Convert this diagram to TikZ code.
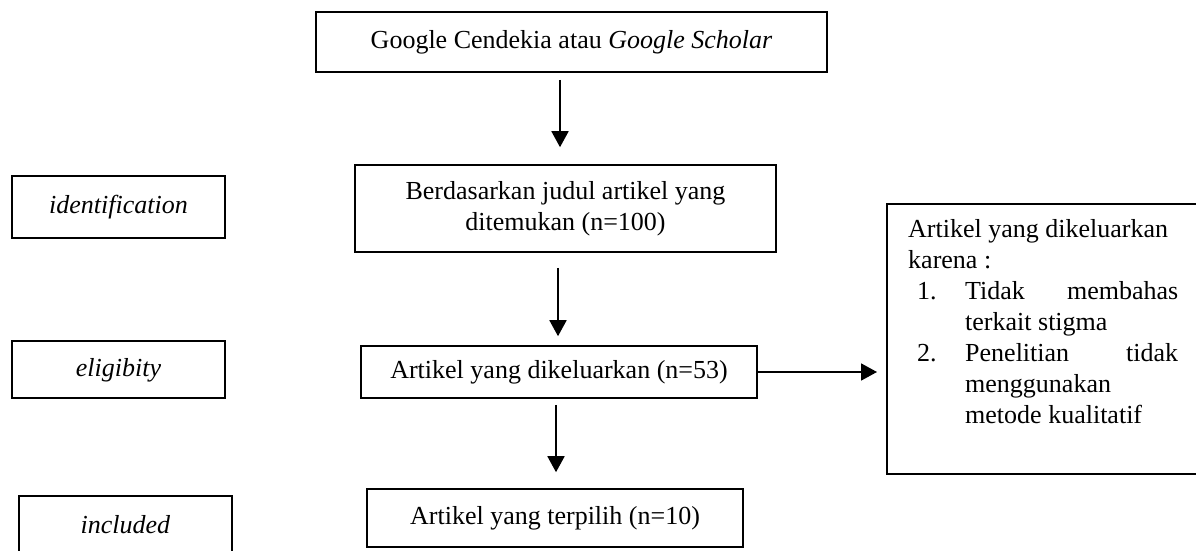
\documentclass[tikz,border=0pt]{standalone}
\usepackage{fontspec}
\setmainfont{Liberation Serif}
\usetikzlibrary{arrows.meta}
\begin{document}
\begin{tikzpicture}[x=1pt,y=-1pt,
  box/.style={draw, line width=1.6pt, inner sep=0pt, align=center, font=\fontsize{26}{30.5}\selectfont},
  one/.style={text height=18pt, text depth=5pt},
  arr/.style={line width=1.8pt, -{Triangle[length=16pt,width=17pt]}}]
\useasboundingbox (0,0) rectangle (1196,551);
% main column
\node[box,one,minimum width=511pt,minimum height=60pt] (b1) at (571.5,42) {Google Cendekia atau \textit{Google Scholar}};
\node[box,minimum width=421pt,minimum height=87pt] (b2) at (565.5,208.5) {Berdasarkan judul artikel yang\\ditemukan (n=100)};
\node[box,one,minimum width=396pt,minimum height=52pt] (b3) at (559,372) {Artikel yang dikeluarkan (n=53)};
\node[box,one,minimum width=376pt,minimum height=58pt] (b4) at (555,518) {Artikel yang terpilih (n=10)};
% left column
\node[box,one,minimum width=213pt,minimum height=62pt] (l1) at (118.5,207) {\textit{identification}};
\node[box,one,minimum width=213pt,minimum height=57pt] (l2) at (118.5,369.5) {\textit{eligibity}};
\node[box,one,minimum width=213pt,minimum height=62pt] (l3) at (125.5,527) {\textit{included}};
% right box
\node[draw, line width=1.6pt, inner sep=0pt, minimum width=314pt, minimum height=270pt, anchor=north west] (rbox) at (886,203) {};
\node[anchor=base west, inner sep=0pt, font=\fontsize{26}{31}\selectfont] (rtext) at (908,237) {\parbox[t]{270pt}{%
Artikel yang dikeluarkan\\
karena :\\
\makebox[57pt][l]{\hspace*{9pt}1.}\makebox[213pt][s]{Tidak membahas}\\
\hspace*{57pt}terkait stigma\\
\makebox[57pt][l]{\hspace*{9pt}2.}\makebox[213pt][s]{Penelitian tidak}\\
\hspace*{57pt}menggunakan\\
\hspace*{57pt}metode kualitatif}};
% arrow columns
\coordinate (x1) at (560,0);
\coordinate (x2) at (558,0);
\coordinate (x3) at (556,0);
\draw[arr, shorten <=7pt, shorten >=17pt] (b1.south -| x1) -- (b2.north -| x1);
\draw[arr, shorten <=15pt, shorten >=9pt] (b2.south -| x2) -- (b3.north -| x2);
\draw[arr, shorten <=6pt, shorten >=16pt] (b3.south -| x3) -- (b4.north -| x3);
\draw[arr, shorten >=9pt] (b3.east) -- (b3.east -| rbox.west);
\end{tikzpicture}
\end{document}
